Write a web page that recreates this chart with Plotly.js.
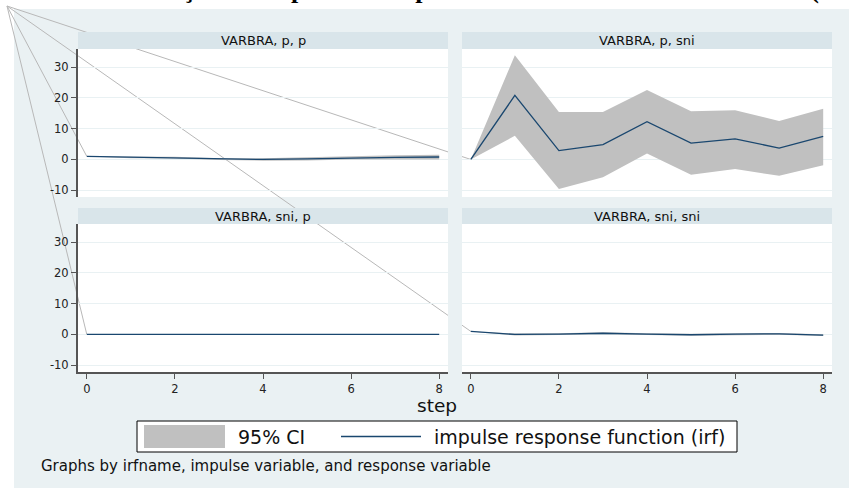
<!DOCTYPE html>
<html><head><meta charset="utf-8">
<script src="https://cdn.plot.ly/plotly-3.0.1.min.js"></script>
<style>html,body{margin:0;padding:0;background:#fff}#chart{width:849px;height:488px}</style>
</head><body><div id="chart"></div>
<script>
// ---- data ----
const steps = [0, 1, 2, 3, 4, 5, 6, 7, 8];
const panelTitles = ["VARBRA, p, p", "VARBRA, p, sni", "VARBRA, sni, p", "VARBRA, sni, sni"];
const irf_p_p   = [1.0, 0.7, 0.6, 0.1, 0.0, 0.2, 0.5, 0.7, 0.8];
const lo_p_p    = [1.0, 0.4, 0.3, -0.2, -0.4, -0.3, 0.0, 0.0, 0.0];
const hi_p_p    = [1.0, 1.0, 0.9, 0.4, 0.4, 0.7, 1.1, 1.4, 1.5];
const irf_p_sni = [0, 20.8, 2.9, 4.8, 12.3, 5.3, 6.7, 3.7, 7.5];
const lo_p_sni  = [0, 7.7, -9.6, -5.8, 1.9, -5.0, -3.1, -5.3, -1.9];
const hi_p_sni  = [0, 33.9, 15.4, 15.4, 22.6, 15.7, 16.0, 12.5, 16.5];
const irf_sni_p = [0, 0, 0, 0, 0, 0, 0, 0, 0];
const lo_sni_p  = [0, 0, 0, 0, 0, 0, 0, 0, 0];
const hi_sni_p  = [0, 0, 0, 0, 0, 0, 0, 0, 0];
const irf_sni_sni = [1.0, 0.0, 0.1, 0.4, 0.1, -0.1, 0.1, 0.2, -0.2];
const lo_sni_sni  = [1.0, -0.3, -0.2, 0.1, -0.2, -0.4, -0.2, -0.1, -0.5];
const hi_sni_sni  = [1.0, 0.3, 0.4, 0.7, 0.4, 0.2, 0.4, 0.5, 0.1];
const xTicks = [0, 2, 4, 6, 8];
const yTicks = [-10, 0, 10, 20, 30];
const legendLabels = ["95% CI", "impulse response function (irf)"];
const xTitle = "step";
const noteText = "Graphs by irfname, impulse variable, and response variable";
const titleText = "Função de Impulso e Resposta do Modelo VAR Brasil Anual (1995-2015)";

// ---- styling / geometry ----
const W = 849, H = 488;
const fx = px => px / W;
const fy = py => 1 - py / H;
const BG = "#EAF1F3", HEAD = "#D9E5EA", GRID = "#E9F1F3", AX = "#555555";
const NAVY = "#1A476F", CI = "#C0C0C0";
const FONT = "DejaVu Sans";
const XR = [-0.2, 8.2], YR = [-12.2, 35.9];
const colX = [[78, 448], [462, 832]];
const rowY = [[49, 197], [224, 372]];
const headY = [[32, 49], [208, 224]];

const panels = [
  {t: panelTitles[0], irf: irf_p_p, lo: lo_p_p, hi: hi_p_p, c: 0, r: 0, xa: "x3", ya: "y3"},
  {t: panelTitles[1], irf: irf_p_sni, lo: lo_p_sni, hi: hi_p_sni, c: 1, r: 0, xa: "x4", ya: "y4"},
  {t: panelTitles[2], irf: irf_sni_p, lo: lo_sni_p, hi: hi_sni_p, c: 0, r: 1, xa: "x", ya: "y"},
  {t: panelTitles[3], irf: irf_sni_sni, lo: lo_sni_sni, hi: hi_sni_sni, c: 1, r: 1, xa: "x2", ya: "y2"}
];

const traces = [];
panels.forEach(p => {
  traces.push({
    x: steps.concat(steps.slice().reverse()),
    y: p.hi.concat(p.lo.slice().reverse()),
    xaxis: p.xa, yaxis: p.ya, mode: "lines", fill: "toself",
    fillcolor: CI, line: {width: 0, color: CI}, hoverinfo: "skip", showlegend: false
  });
  traces.push({
    x: steps, y: p.irf, xaxis: p.xa, yaxis: p.ya, mode: "lines",
    line: {color: NAVY, width: 1.3}, showlegend: false
  });
});

function xAxis(c, r, anchor) {
  const bottom = r === 1;
  return {
    domain: [fx(colX[c][0]), fx(colX[c][1])], anchor: anchor, range: XR,
    tickmode: "array", tickvals: xTicks, ticktext: xTicks.map(String),
    showticklabels: bottom, ticks: bottom ? "outside" : "", ticklen: 5, tickwidth: 1, tickcolor: AX,
    showline: bottom, linecolor: AX, linewidth: 2, showgrid: false, zeroline: false,
    tickfont: {family: FONT, size: 11.5, color: "#222"}, fixedrange: true
  };
}
function yAxis(c, r, anchor) {
  const left = c === 0;
  return {
    domain: [fy(rowY[r][1]), fy(rowY[r][0])], anchor: anchor, range: YR,
    tickmode: "array", tickvals: yTicks, ticktext: yTicks.map(String),
    showticklabels: left, ticks: left ? "outside" : "", ticklen: 5, tickwidth: 1, tickcolor: AX,
    showline: left, linecolor: AX, linewidth: 2, showgrid: true, gridcolor: GRID, gridwidth: 1,
    zeroline: false, tickfont: {family: FONT, size: 11.5, color: "#222"}, fixedrange: true
  };
}

const layout = {
  width: W, height: H, margin: {l: 0, r: 0, t: 0, b: 0},
  paper_bgcolor: BG, plot_bgcolor: "#FFFFFF", showlegend: false,
  font: {family: FONT, color: "#222"},
  xaxis: xAxis(0, 1, "y"), yaxis: yAxis(0, 1, "x"),
  xaxis2: xAxis(1, 1, "y2"), yaxis2: yAxis(1, 1, "x2"),
  xaxis3: xAxis(0, 0, "y3"), yaxis3: yAxis(0, 0, "x3"),
  xaxis4: xAxis(1, 0, "y4"), yaxis4: yAxis(1, 0, "x4"),
  shapes: [], annotations: []
};

// white strips outside the graph region
layout.shapes.push({type: "rect", xref: "paper", yref: "paper", x0: 0, x1: 1, y0: fy(9), y1: 1, fillcolor: "#FFFFFF", line: {width: 0}, layer: "below"});
layout.shapes.push({type: "rect", xref: "paper", yref: "paper", x0: 0, x1: fx(14), y0: 0, y1: 1, fillcolor: "#FFFFFF", line: {width: 0}, layer: "below"});

// stray lines from the corner to the first irf point of each panel
function toPaper(axx, axy, x, y) {
  const xd = axx.domain, yd = axy.domain, xr = axx.range, yr = axy.range;
  return [xd[0] + (x - xr[0]) / (xr[1] - xr[0]) * (xd[1] - xd[0]),
          yd[0] + (y - yr[0]) / (yr[1] - yr[0]) * (yd[1] - yd[0])];
}
panels.forEach(p => {
  const ax = layout[p.xa === "x" ? "xaxis" : "xaxis" + p.xa.slice(1)];
  const ay = layout[p.ya === "y" ? "yaxis" : "yaxis" + p.ya.slice(1)];
  const e = toPaper(ax, ay, steps[0], p.irf[0]);
  layout.shapes.push({type: "line", xref: "paper", yref: "paper", x0: fx(7), y0: fy(6), x1: e[0], y1: e[1],
    line: {color: "#B8B8B8", width: 1}, layer: "below"});
});

// gap stripe and panel headers
layout.shapes.push({type: "rect", xref: "paper", yref: "paper", x0: fx(448), x1: fx(462), y0: fy(372), y1: fy(32), fillcolor: BG, line: {width: 0}, layer: "below"});
panels.forEach(p => {
  layout.shapes.push({type: "rect", xref: "paper", yref: "paper",
    x0: fx(colX[p.c][0]), x1: fx(colX[p.c][1]), y0: fy(headY[p.r][1]), y1: fy(headY[p.r][0]),
    fillcolor: HEAD, line: {width: 0}, layer: "below"});
  layout.annotations.push({xref: "paper", yref: "paper", x: fx((colX[p.c][0] + colX[p.c][1]) / 2),
    y: fy((headY[p.r][0] + headY[p.r][1]) / 2), text: p.t, showarrow: false,
    xanchor: "center", yanchor: "middle", font: {family: FONT, size: 13, color: "#111"}});
});

// legend box
layout.shapes.push({type: "rect", xref: "paper", yref: "paper", x0: fx(137), x1: fx(737), y0: fy(452), y1: fy(421), fillcolor: "#FFFFFF", line: {color: "#000", width: 1}, layer: "below"});
layout.shapes.push({type: "rect", xref: "paper", yref: "paper", x0: fx(144), x1: fx(225), y0: fy(448), y1: fy(425), fillcolor: CI, line: {width: 0}, layer: "below"});
layout.shapes.push({type: "line", xref: "paper", yref: "paper", x0: fx(341), x1: fx(421), y0: fy(436.5), y1: fy(436.5), line: {color: NAVY, width: 1.5}, layer: "below"});
layout.annotations.push({xref: "paper", yref: "paper", x: fx(236), y: fy(436.5), text: legendLabels[0], showarrow: false, xanchor: "left", yanchor: "middle", font: {family: FONT, size: 19, color: "#111"}});
layout.annotations.push({xref: "paper", yref: "paper", x: fx(432), y: fy(436.5), text: legendLabels[1], showarrow: false, xanchor: "left", yanchor: "middle", font: {family: FONT, size: 19, color: "#111"}});

// axis title and note
layout.annotations.push({xref: "paper", yref: "paper", x: fx(437), y: fy(405), text: xTitle, showarrow: false, xanchor: "center", yanchor: "middle", font: {family: FONT, size: 18.5, color: "#111"}});
layout.annotations.push({xref: "paper", yref: "paper", x: fx(39), y: fy(466), text: noteText, showarrow: false, xanchor: "left", yanchor: "middle", font: {family: FONT, size: 15, color: "#111"}});

// cut-off title at the very top (only its descenders show)
layout.annotations.push({xref: "paper", yref: "paper", x: fx(136), y: fy(6), text: "<b>" + titleText + "</b>", showarrow: false, xanchor: "left", yanchor: "bottom", font: {family: "Liberation Serif", size: 26, color: "#000"}});

Plotly.newPlot("chart", traces, layout, {staticPlot: true, displayModeBar: false});
</script>
</body></html>
